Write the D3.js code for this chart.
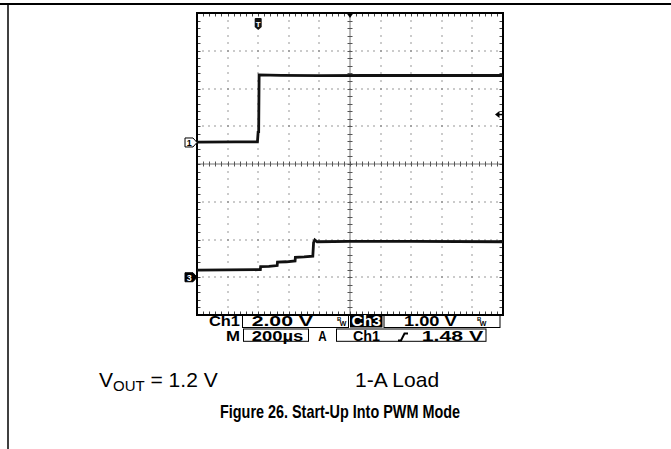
<!DOCTYPE html>
<html>
<head>
<meta charset="utf-8">
<script src="https://cdn.jsdelivr.net/npm/d3@7"></script>
<style>
  html, body { margin: 0; padding: 0; background: #fff; }
  svg { display: block; }
  text { font-family: "Liberation Sans", Arial, sans-serif; }
</style>
</head>
<body>
<div id="chart"></div>
<script>
// 示波器設定 (200 µs/div, 觸發點在第 2 格)
const timeDomain = [-400, 1600];
const ch1Ground = 3.43; // 由上往下的格數
const ch3Ground = 7;
const ch1VoltsPerDiv = 2;
const ch3VoltsPerDiv = 1;
const triggerLevel = 1.48;

// Ch1: 輸入 / 致能訊號
const ch1Time = [-400, -150, -5, 0, 3, 6, 150, 400, 700, 1000, 1300, 1600];
const ch1Volts = [0.02, 0.03, 0.03, 0.6, 0.5, 3.58, 3.56, 3.54, 3.55, 3.55, 3.55, 3.55];

// Ch3: VOUT 軟啟動階梯
const ch3Time = [-400, 0, 14, 16, 70, 124, 126, 185, 241, 243, 300, 357, 362, 370, 385, 600, 1000, 1600];
const ch3Volts = [0.19, 0.2, 0.2, 0.28, 0.29, 0.31, 0.4, 0.41, 0.43, 0.53, 0.54, 0.56, 0.92, 0.99, 0.94, 0.95, 0.95, 0.94];

// 讀數文字
const row1Labels = ["Ch1", "2.00 V", "Ch3", "1.00 V"];
const row2Labels = ["M", "200µs", "A", "Ch1", "1.48 V"];
const noteLabels = ["1.2 V", "1-A Load"];
const captionText = "Figure 26. Start-Up Into PWM Mode";

const W = 671, H = 449;
const frame = { left: 197, right: 503, top: 13, bottom: 315 };

const svg = d3
  .select("#chart")
  .append("svg")
  .attr("width", W)
  .attr("height", H);

// 頁面框線
svg.append("line").attr("x1", 0).attr("x2", W).attr("y1", 4).attr("y2", 4)
  .attr("stroke", "#000").attr("stroke-width", 2);
svg.append("line").attr("x1", 8).attr("x2", 8).attr("y1", 4).attr("y2", H)
  .attr("stroke", "#000").attr("stroke-width", 1.5);

const x = d3.scaleLinear().domain(timeDomain).range([frame.left, frame.right]);
const xDiv = d3.scaleLinear().domain([0, 10]).range([frame.left, frame.right]);
const yDiv = d3.scaleLinear().domain([0, 8]).range([frame.top, frame.bottom]);

const y1 = d3.scaleLinear()
  .domain([0, ch1VoltsPerDiv])
  .range([yDiv(ch1Ground), yDiv(ch1Ground - 1)]);
const y3 = d3.scaleLinear()
  .domain([0, ch3VoltsPerDiv])
  .range([yDiv(ch3Ground), yDiv(ch3Ground - 1)]);

const grid = svg.append("g");

// 點狀格線
const minorX = d3.range(1, 50).map((d) => d / 5);
const minorY = d3.range(1, 40).map((d) => d / 5);
[1, 2, 3, 4, 6, 7, 8, 9].forEach((i) => {
  minorY.forEach((j) => {
    grid.append("rect").attr("x", Math.round(xDiv(i)) - 0.5).attr("y", Math.round(yDiv(j)) - 0.5)
      .attr("width", 1).attr("height", 1).attr("fill", "#333");
  });
});
[1, 2, 3, 5, 6, 7].forEach((j) => {
  minorX.forEach((i) => {
    grid.append("rect").attr("x", Math.round(xDiv(i)) - 0.5).attr("y", Math.round(yDiv(j)) - 0.5)
      .attr("width", 1).attr("height", 1).attr("fill", "#333");
  });
});

// 中心十字線與刻度
const cx = xDiv(5), cy = yDiv(4);
grid.append("line").attr("x1", cx).attr("x2", cx).attr("y1", frame.top).attr("y2", frame.bottom)
  .attr("stroke", "#777").attr("stroke-width", 1);
grid.append("line").attr("x1", frame.left).attr("x2", frame.right).attr("y1", cy).attr("y2", cy)
  .attr("stroke", "#777").attr("stroke-width", 1);
minorY.forEach((j) => {
  const yy = Math.round(yDiv(j)) + 0.5;
  grid.append("line").attr("x1", cx - 2.5).attr("x2", cx + 2.5).attr("y1", yy).attr("y2", yy)
    .attr("stroke", "#555");
  grid.append("line").attr("x1", frame.left).attr("x2", frame.left + 3.5).attr("y1", yy).attr("y2", yy)
    .attr("stroke", "#444");
  grid.append("line").attr("x1", frame.right - 3.5).attr("x2", frame.right).attr("y1", yy).attr("y2", yy)
    .attr("stroke", "#444");
});
minorX.forEach((i) => {
  const xx = Math.round(xDiv(i)) + 0.5;
  grid.append("line").attr("x1", xx).attr("x2", xx).attr("y1", cy - 2.5).attr("y2", cy + 2.5)
    .attr("stroke", "#555");
  grid.append("line").attr("x1", xx).attr("x2", xx).attr("y1", frame.top).attr("y2", frame.top + 3.5)
    .attr("stroke", "#444");
  grid.append("line").attr("x1", xx).attr("x2", xx).attr("y1", frame.bottom - 3.5).attr("y2", frame.bottom)
    .attr("stroke", "#444");
});

// 外框
svg.append("rect")
  .attr("x", frame.left).attr("y", frame.top)
  .attr("width", frame.right - frame.left).attr("height", frame.bottom - frame.top)
  .attr("fill", "none").attr("stroke", "#000").attr("stroke-width", 2);

// 波形
const ch1Data = ch1Time.map((t, i) => ({ t, v: ch1Volts[i] }));
const ch3Data = ch3Time.map((t, i) => ({ t, v: ch3Volts[i] }));

svg.append("path")
  .datum(ch1Data)
  .attr("fill", "none").attr("stroke", "#111").attr("stroke-width", 2.8)
  .attr("d", d3.line().x((d) => x(d.t)).y((d) => y1(d.v)));

svg.append("path")
  .datum(ch3Data)
  .attr("fill", "none").attr("stroke", "#111").attr("stroke-width", 2.8)
  .attr("d", d3.line().x((d) => x(d.t)).y((d) => y3(d.v)));

// 標記
const mk = svg.append("g");
// 水平位置三角
mk.append("path")
  .attr("d", `M${cx - 3.5},${frame.top} L${cx + 3.5},${frame.top} L${cx},${frame.top + 5} Z`)
  .attr("fill", "#000");
// 觸發點 T
const tx = x(0);
mk.append("path")
  .attr("d", `M${tx - 3.5},19 Q${tx - 3.5},18 ${tx - 2.5},18 L${tx + 2.5},18 Q${tx + 3.5},18 ${tx + 3.5},19 L${tx + 3.5},27 L${tx},30 L${tx - 3.5},27 Z`)
  .attr("fill", "#111");
mk.append("text").attr("x", tx).attr("y", 26.5).attr("text-anchor", "middle")
  .attr("font-size", 8).attr("font-weight", "bold").attr("fill", "#fff").text("T");

// 觸發準位箭頭
const ty = y1(triggerLevel);
mk.append("path")
  .attr("d", `M${frame.right - 8},${ty} L${frame.right - 3.5},${ty - 3.5} L${frame.right - 3.5},${ty + 3.5} Z`)
  .attr("fill", "#000");
mk.append("line").attr("x1", frame.right - 4).attr("x2", frame.right).attr("y1", ty).attr("y2", ty)
  .attr("stroke", "#000").attr("stroke-width", 1.5);

// 通道接地標記
function groundMarker(yy, label, dark) {
  const l = frame.left - 12;
  mk.append("path")
    .attr("d", `M${l},${yy - 4.5} H${l + 8} L${frame.left},${yy} L${l + 8},${yy + 4.5} H${l} Z`)
    .attr("fill", dark ? "#000" : "#fff").attr("stroke", "#000").attr("stroke-width", 1);
  mk.append("text").attr("x", l + 4.2).attr("y", yy + 3.3).attr("text-anchor", "middle")
    .attr("font-size", 9).attr("font-weight", "bold").attr("fill", dark ? "#fff" : "#000").text(label);
}
groundMarker(y1(0), "1", false);
groundMarker(y3(0), "3", true);

// 讀數列
const ro = svg.append("g").attr("font-weight", "bold").attr("font-size", 14);
function boxed(x0, x1, yTop, yBot) {
  ro.append("rect").attr("x", x0).attr("y", yTop).attr("width", x1 - x0).attr("height", yBot - yTop)
    .attr("fill", "none").attr("stroke", "#000").attr("stroke-width", 1);
}
function label(txt, x0, x1, base, fill) {
  ro.append("text").attr("x", x0).attr("y", base).attr("textLength", x1 - x0)
    .attr("lengthAdjust", "spacingAndGlyphs").attr("fill", fill || "#000").text(txt);
}
function bw(x0, base) {
  const t = ro.append("text").attr("x", x0).attr("y", base - 4.5).attr("font-size", 6);
  t.append("tspan").text("B");
  t.append("tspan").attr("font-size", 7).attr("dx", -1.5).attr("dy", 5).text("W");
}
const r1Top = 315, r1Bot = 327.5, r1Base = 325.7;
const r2Top = 329, r2Bot = 341.3, r2Base = 340.5;

label(row1Labels[0], 209, 240, r1Base);
boxed(242.5, 348.5, r1Top, r1Bot);
label(row1Labels[1], 251.7, 313, r1Base);
bw(337, r1Base);
ro.append("rect").attr("x", 350).attr("y", r1Top).attr("width", 32.5).attr("height", r1Bot - r1Top).attr("fill", "#000");
label(row1Labels[2], 351.5, 381, r1Base, "#fff");
boxed(384, 500, r1Top, r1Bot);
label(row1Labels[3], 404, 456.7, r1Base);
bw(477, r1Base);

label(row2Labels[0], 226, 240, r2Base);
boxed(243.5, 308.5, r2Top, r2Bot);
label(row2Labels[1], 251.7, 303.3, r2Base);
label(row2Labels[2], 318.3, 326.7, r2Base);
boxed(336.5, 486, r2Top, r2Bot);
label(row2Labels[3], 353, 380, r2Base);
ro.append("path").attr("d", `M398,${r2Base} L401,${r2Base} L404.5,${r2Base - 7} L408,${r2Base - 7}`)
  .attr("fill", "none").attr("stroke", "#000").attr("stroke-width", 2);
label(row2Labels[4], 421.7, 483.3, r2Base);

// 註解文字
const note = svg.append("text").attr("x", 99).attr("y", 387).attr("font-size", 21);
note.append("tspan").text("V");
note.append("tspan").attr("font-size", 15).attr("dy", 3.5).text("OUT");
note.append("tspan").attr("dy", -3.5).text(" = " + noteLabels[0]);

svg.append("text").attr("x", 355).attr("y", 387).attr("font-size", 21).text(noteLabels[1]);

// 圖說 (置中於示波器畫面下方)
svg.append("text").attr("x", 340).attr("y", 418).attr("font-size", 19).attr("font-weight", "bold")
  .attr("text-anchor", "middle")
  .attr("textLength", 240).attr("lengthAdjust", "spacingAndGlyphs").text(captionText);
</script>
</body>
</html>
